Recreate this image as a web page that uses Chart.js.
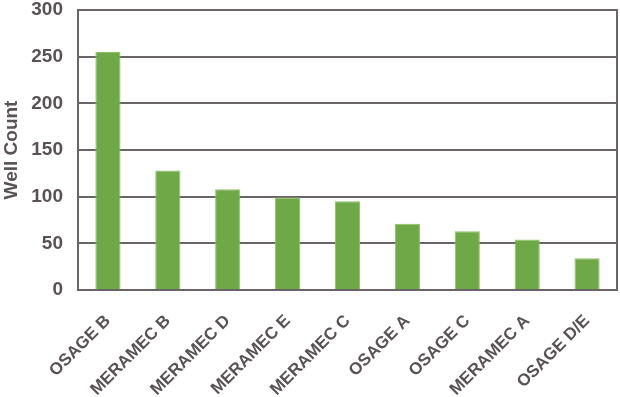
<!DOCTYPE html>
<html>
<head>
<meta charset="utf-8">
<script src="https://cdn.jsdelivr.net/npm/chart.js@4/dist/chart.umd.min.js"></script>
<style>
  html, body { margin: 0; padding: 0; background: #fff; }
  #wrap { width: 620px; height: 397px; position: relative; }
</style>
</head>
<body>
<div id="wrap"><canvas id="myChart"></canvas></div>
<script>
var categories = ["OSAGE B", "MERAMEC B", "MERAMEC D", "MERAMEC E", "MERAMEC C", "OSAGE A", "OSAGE C", "MERAMEC A", "OSAGE D/E"];
var wellCounts = [255, 128, 108, 99, 95, 71, 63, 54, 34];
var yTicks = [0, 50, 100, 150, 200, 250, 300];

var GRAY = "#6b6466";
var TEXT = "#595254";
var GREEN = "#6fa847";

// frame round the plot area
var frame = {
  id: "frame",
  afterDraw: function (chart) {
    var a = chart.chartArea, ctx = chart.ctx;
    ctx.save();
    ctx.strokeStyle = GRAY;
    ctx.lineWidth = 2;
    ctx.strokeRect(a.left, a.top, a.right - a.left, a.bottom - a.top);
    ctx.restore();
  }
};

var ctx = document.getElementById("myChart");
new Chart(ctx, {
  type: "bar",
  data: {
    labels: categories,
    datasets: [{
      label: "Well Count",
      data: wellCounts,
      backgroundColor: GREEN,
      borderColor: "#8cc067",
      borderWidth: 1,
      barPercentage: 0.42,
      categoryPercentage: 1
    }]
  },
  options: {
    responsive: true,
    maintainAspectRatio: false,
    animation: false,
    layout: { padding: { top: 10, right: 3, left: 0, bottom: 0 } },
    plugins: {
      legend: { display: false },
      tooltip: { enabled: false }
    },
    scales: {
      x: {
        grid: { display: false },
        border: { display: false },
        ticks: {
          color: TEXT,
          font: { family: "Liberation Sans", size: 17, weight: "bold" },
          minRotation: 45,
          maxRotation: 45,
          padding: 13
        },
        afterFit: function (s) {
          s.height = 107;
          s.paddingLeft = 0;
          s.paddingRight = 0;
        }
      },
      y: {
        min: 0,
        max: 300,
        afterBuildTicks: function (s) {
          s.ticks = yTicks.map(function (v) { return { value: v }; });
        },
        grid: { color: GRAY, lineWidth: 2, drawTicks: false },
        border: { display: false },
        ticks: {
          color: TEXT,
          font: { family: "Liberation Sans", size: 19, weight: "bold" },
          padding: 15
        },
        title: {
          display: true,
          text: "Well Count",
          color: TEXT,
          font: { family: "Liberation Sans", size: 19, weight: "bold" },
          padding: { top: 0, bottom: 2 }
        },
        afterFit: function (s) {
          s.width = 78;
          s.paddingTop = 0;
          s.paddingBottom = 0;
        }
      }
    }
  },
  plugins: [frame]
});
</script>
</body>
</html>
